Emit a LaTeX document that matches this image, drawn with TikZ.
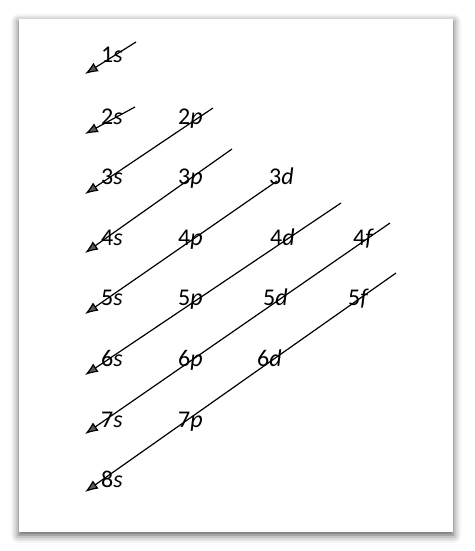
\documentclass[tikz,border=0pt]{standalone}
\usepackage{fontspec}
\setmainfont{Carlito}
\usetikzlibrary{arrows.meta,shadows.blur}
\tikzstyle{orbital}=[anchor=base west,inner sep=0pt,font=\fontsize{24}{28}\selectfont]
\tikzstyle{edge} = [draw,line width=1.2pt,-{Latex[length=13pt,width=10pt]}]
\tikzstyle{frame} = [fill=white,blur shadow={shadow xshift=0pt,shadow yshift=-3pt,shadow blur radius=8pt,shadow opacity=70}]

\begin{document}
\begin{tikzpicture}[x=1pt,y=-1pt]
				\useasboundingbox (0,0) rectangle (474,551);
				\path[frame] (19,19) rectangle (453,532);

				% First we place the orbital labels
				\foreach \pos/\n/\l in {{(101,63)/1/s},
										{(101,124)/2/s}, {(178,124)/2/p},
										{(101,184)/3/s}, {(178,184)/3/p}, {(269,184)/3/d},
										{(101,245)/4/s}, {(178,245)/4/p}, {(270,245)/4/d}, {(353,245)/4/f},
										{(101,305)/5/s}, {(178,305)/5/p}, {(263,305)/5/d}, {(348,305)/5/f},
										{(101,366)/6/s}, {(178,366)/6/p}, {(257,366)/6/d},
										{(101,427)/7/s}, {(178,427)/7/p},
										{(101,487)/8/s}}
				\node[orbital] (\n\l) at \pos {\n\textit{\l}};

				% Then the filling diagonals, from their top end to the arrow tip
				\foreach \i/\top/\tip in {1/{136,42}/{85,74}, 2/{135,107}/{85,134}, 3/{213,108}/{85,194},
										4/{232,149}/{85,253}, 5/{277,181}/{85,314}, 6/{341,203}/{85,375},
										7/{390,223}/{85,434}, 8/{396,273}/{85,492}}
				{
				\coordinate (top\i) at (\top);
				\coordinate (tip\i) at (\tip);
				\path[edge] (top\i) -- (tip\i);
				}

			\end{tikzpicture}
\end{document}
